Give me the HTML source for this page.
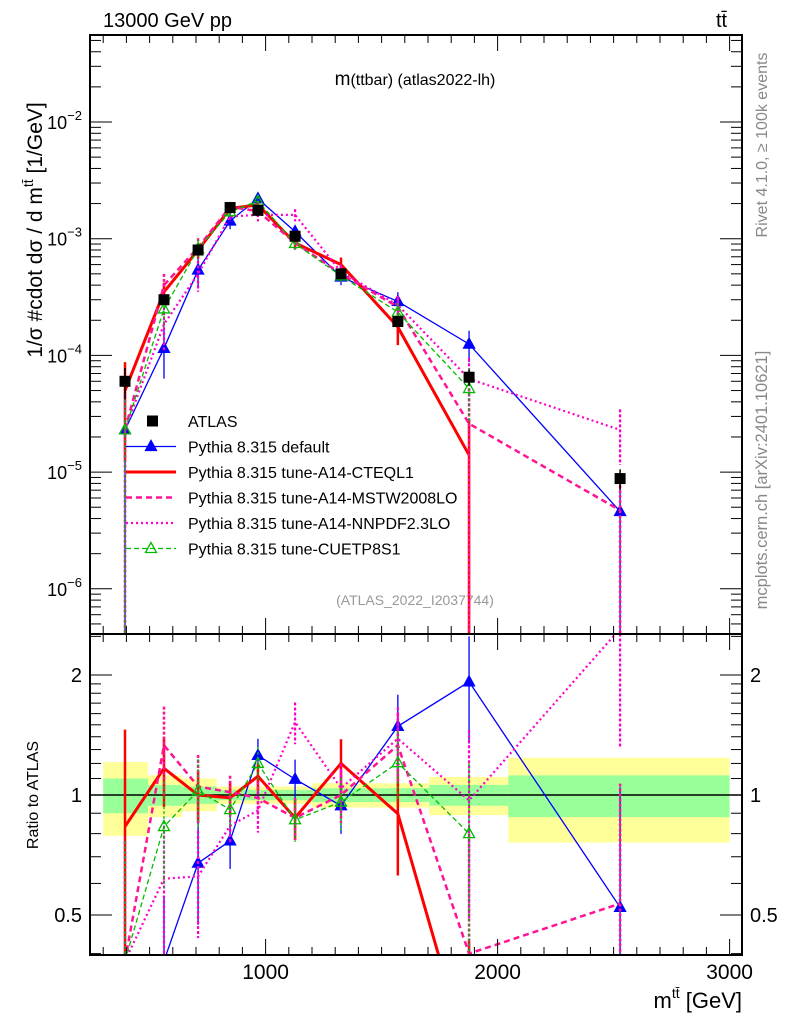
<!DOCTYPE html>
<html><head><meta charset="utf-8">
<style>
html,body{margin:0;padding:0;background:#fff;overflow:hidden;width:786px;height:1024px;}
svg{display:block;font-family:"Liberation Sans",sans-serif;}
</style></head>
<body>
<svg id="chart" width="786" height="1024" viewBox="0 0 786 1024">
<text x="103" y="27" font-size="20">13000 GeV pp</text>
<text x="716" y="27" font-size="20">tt̄</text>
<text x="415" y="85" font-size="19" text-anchor="middle">m<tspan font-size="16">(ttbar) (atlas2022-lh)</tspan></text>
<text x="415" y="605" font-size="14" fill="#999" text-anchor="middle">(ATLAS_2022_I2037744)</text>
<text transform="translate(767,145) rotate(-90)" font-size="16" fill="#888" text-anchor="middle">Rivet 4.1.0, ≥ 100k events</text>
<text transform="translate(767,480) rotate(-90)" font-size="16.5" fill="#888" text-anchor="middle">mcplots.cern.ch [arXiv:2401.10621]</text>
<text transform="translate(42,230) rotate(-90)" font-size="21" text-anchor="middle">1/σ #cdot dσ / d m<tspan font-size="14" dy="-9">tt̄</tspan><tspan dy="9"> [1/GeV]</tspan></text>
<text transform="translate(38,795) rotate(-90)" font-size="16" text-anchor="middle">Ratio to ATLAS</text>
<text x="742" y="1008" font-size="22" text-anchor="end">m<tspan font-size="14" dy="-10">tt̄</tspan><tspan dy="10"> [GeV]</tspan></text>
<g id="bands"></g><g id="marks"></g><g id="axes"></g><g id="legend"></g>
</svg>
<script>
const binsX=[394,562,709,847,967,1127,1325,1570,1877,2528];
const bandEdges=[300,493,640,789,900,1040,1200,1434,1705,2046,3000];
const bandYellowHi=[1.21,1.12,1.10,1.05,1.05,1.05,1.07,1.07,1.11,1.24];
const bandYellowLo=[0.79,0.88,0.91,0.95,0.95,0.95,0.93,0.93,0.89,0.76];
const bandGreenHi=[1.10,1.06,1.05,1.03,1.03,1.03,1.04,1.04,1.06,1.12];
const bandGreenLo=[0.90,0.94,0.95,0.97,0.97,0.97,0.96,0.96,0.94,0.88];
const atlas=[6e-5,3e-4,8e-4,1.85e-3,1.75e-3,1.05e-3,5e-4,1.95e-4,6.5e-5,8.8e-6];
const atlasErr=[0.3,0.1,0.08,0.06,0.06,0.06,0.08,0.1,0.15,0.2];
const mcDefault=[2.3e-5,1.15e-4,5.4e-4,1.42e-3,2.2e-3,1.15e-3,4.7e-4,2.9e-4,1.25e-4,4.6e-6];
const mcDefaultErr=[1,0.45,0.3,0.15,0.1,0.12,0.15,0.2,0.3,1];
const mcCteq=[5.0e-5,3.5e-4,8.0e-4,1.82e-3,1.95e-3,9.2e-4,6.0e-4,1.75e-4,1.4e-5];
const mcCteqErr=[0.75,0.2,0.15,0.1,0.08,0.12,0.15,0.3,1];
const mcMstw=[2.3e-5,4.0e-4,8.4e-4,1.88e-3,1.72e-3,9.2e-4,5.0e-4,2.6e-4,2.6e-5,4.7e-6];
const mcMstwErr=[1,0.25,0.2,0.1,0.1,0.12,0.15,0.2,1,1];
const mcNnpdf=[2.3e-5,1.85e-4,5.0e-4,1.55e-3,1.6e-3,1.6e-3,5.2e-4,2.7e-4,6.3e-5,2.3e-5];
const mcNnpdfErr=[1,0.4,0.3,0.1,0.12,0.12,0.15,0.2,0.5,0.5];
const mcCuet=[2.3e-5,2.5e-4,8.2e-4,1.7e-3,2.1e-3,9.1e-4,4.8e-4,2.35e-4,5.2e-5];
const mcCuetErr=[1,0.3,0.2,0.1,0.1,0.12,0.15,0.2,0.5];
const xTicks=[1000,2000,3000];
const yTicksMain=[-2,-3,-4,-5,-6];
const yTicksRatio=[2,1,0.5];

const NS="http://www.w3.org/2000/svg";
const L=90,R=742,T=35,M=634,B=955;
const X=v=>265.6+(v-1000)*0.232;
const YM=v=>122-116.7*(Math.log10(v)+2);
const YR=r=>795-120*Math.log2(r);
function mk(tag,attrs,parent){const e=document.createElementNS(NS,tag);for(const k in attrs)e.setAttribute(k,attrs[k]);parent.appendChild(e);return e;}
const bands=document.getElementById('bands'),marks=document.getElementById('marks'),axes=document.getElementById('axes'),legend=document.getElementById('legend');

for(let i=0;i<bandEdges.length-1;i++){
  const x0=X(bandEdges[i]),x1=X(bandEdges[i+1]);
  let r=mk('rect',{x:x0,y:YR(bandYellowHi[i]),width:x1-x0,height:YR(bandYellowLo[i])-YR(bandYellowHi[i]),fill:'#ffff99'},bands);
  
  
  r=mk('rect',{x:x0,y:YR(bandGreenHi[i]),width:x1-x0,height:YR(bandGreenLo[i])-YR(bandGreenHi[i]),fill:'#99ff99'},bands);
  
  
}
let one=mk('line',{x1:L,x2:R,y1:YR(1),y2:YR(1),stroke:'#000','stroke-width':1.5},bands);



const series=[
 {name:'default',vals:mcDefault,err:mcDefaultErr,color:'#0000ff',w:1.3,dash:'',marker:'tri'},
 {name:'cteql1',vals:mcCteq,err:mcCteqErr,color:'#ff0000',w:3,dash:'',marker:'none'},
 {name:'mstw',vals:mcMstw,err:mcMstwErr,color:'#ff1493',w:2.5,dash:'6,4',marker:'none'},
 {name:'nnpdf',vals:mcNnpdf,err:mcNnpdfErr,color:'#ff00cc',w:2.2,dash:'2,3',marker:'none'},
 {name:'cuetp8s1',vals:mcCuet,err:mcCuetErr,color:'#00bb00',w:1.3,dash:'5,3',marker:'otri'}
];
function clipG(y0,y1){const id='c'+y0;const d=mk('clipPath',{id:id},marks);mk('rect',{x:L,y:y0,width:R-L,height:y1-y0},d);return 'url(#'+id+')';}
const clipMain=clipG(T,M),clipRatio=clipG(M,B);
function tri(g,x,y,c,open){return mk('polygon',{points:`${x},${y-6} ${x-5.5},${y+4} ${x+5.5},${y+4}`,fill:open?'none':c,stroke:c,'stroke-width':1.3},g);}
series.forEach(s=>{
  ['main','ratio'].forEach(panel=>{
    const g=mk('g',{'clip-path':panel==='main'?clipMain:clipRatio},marks);
    
    
    const f=(v,i)=>panel==='main'?YM(v):YR(v/atlas[i]);
    const pts=s.vals.map((v,i)=>X(binsX[i])+','+f(v,i)).join(' ');
    const pl=mk('polyline',{points:pts,fill:'none',stroke:s.color,'stroke-width':s.w,'stroke-dasharray':s.dash},g);
    
    
    s.vals.forEach((v,i)=>{
      const x=X(binsX[i]);const hi=v*(1+s.err[i]),lo=Math.max(v*(1-s.err[i]),1e-9);
      const e=mk('line',{x1:x,x2:x,y1:f(hi,i),y2:f(lo,i),stroke:s.color,'stroke-width':Math.min(s.w,2.5),'stroke-dasharray':s.dash?'3,2':''},g);
      
      
      if(s.marker!=='none'){const m=tri(g,x,f(v,i),s.color,s.marker==='otri');
        
        }
    });
  });
});
const ga=mk('g',{'clip-path':clipMain},marks);


atlas.forEach((v,i)=>{
  const x=X(binsX[i]),y=YM(v);
  mk('line',{x1:x,x2:x,y1:YM(v*(1+atlasErr[i])),y2:YM(v*(1-atlasErr[i])),stroke:'#000','stroke-width':1.5},ga);
  const r=mk('rect',{x:x-5.5,y:y-5.5,width:11,height:11,fill:'#000'},ga);
  
  
});

[[T,M],[M,B]].forEach(([a,b],k)=>{const r=mk('rect',{x:L,y:a,width:R-L,height:b-a,fill:'none',stroke:'#000','stroke-width':2},axes);
  
  });
for(let v=300;v<=3000;v+=100){const x=X(v);const big=v%1000===0;const len=big?16:8;
  [[T,1],[M,-1],[M,1],[B,-1]].forEach(([y,d])=>mk('line',{x1:x,x2:x,y1:y,y2:y+d*len,stroke:'#000','stroke-width':1},axes));}
xTicks.forEach(v=>{const t=mk('text',{x:X(v),y:979,'font-size':21,'text-anchor':'middle'},axes);t.textContent=v;
  
  });
for(let d=-7;d<=-1;d++){for(let m=1;m<10;m++){const v=m*Math.pow(10,d);const y=YM(v);if(y<T||y>M)continue;const len=m===1?22:11;
  mk('line',{x1:L,x2:L+len,y1:y,y2:y,stroke:'#000'},axes);mk('line',{x1:R,x2:R-len,y1:y,y2:y,stroke:'#000'},axes);}}
yTicksMain.forEach(e=>{const t=mk('text',{x:82,y:YM(Math.pow(10,e))+7,'font-size':18,'text-anchor':'end'},axes);
  t.innerHTML='10<tspan font-size="13" dy="-9">'+(e<0?'−':'')+Math.abs(e)+'</tspan>';
  
  });
[0.4,0.5,0.6,0.7,0.8,0.9,1,1.1,1.2,1.3,1.4,1.5,1.6,1.7,1.8,1.9,2,2.5].forEach(r=>{const y=YR(r);if(y<M||y>B)return;const len=(r===0.5||r===1||r===2)?22:11;
  mk('line',{x1:L,x2:L+len,y1:y,y2:y,stroke:'#000'},axes);mk('line',{x1:R,x2:R-len,y1:y,y2:y,stroke:'#000'},axes);});
yTicksRatio.forEach(r=>{[[82,'end'],[750,'start']].forEach(([x,a])=>{const t=mk('text',{x:x,y:YR(r)+7,'font-size':20,'text-anchor':a},axes);t.textContent=r;
  
  });});

const legItems=[['ATLAS','#000','','sq',0],['Pythia 8.315 default','#0000ff','','tri',1.3],['Pythia 8.315 tune-A14-CTEQL1','#ff0000','','none',3],
 ['Pythia 8.315 tune-A14-MSTW2008LO','#ff1493','6,4','none',2.5],['Pythia 8.315 tune-A14-NNPDF2.3LO','#ff00cc','2,3','none',2.2],['Pythia 8.315 tune-CUETP8S1','#00bb00','5,3','otri',1.3]];
legItems.forEach((it,i)=>{const y=421+i*25.5;const g=mk('g',{},legend);
  
  
  if(it[3]==='sq')mk('rect',{x:147,y:y-5.5,width:11,height:11,fill:'#000'},g);
  else mk('line',{x1:126,x2:176,y1:y,y2:y,stroke:it[1],'stroke-width':it[4],'stroke-dasharray':it[2]},g);
  if(it[3]==='tri'||it[3]==='otri')tri(g,151,y,it[1],it[3]==='otri');
  const t=mk('text',{x:188,y:y+6,'font-size':16},g);t.textContent=it[0];});
</script>
</body></html>
